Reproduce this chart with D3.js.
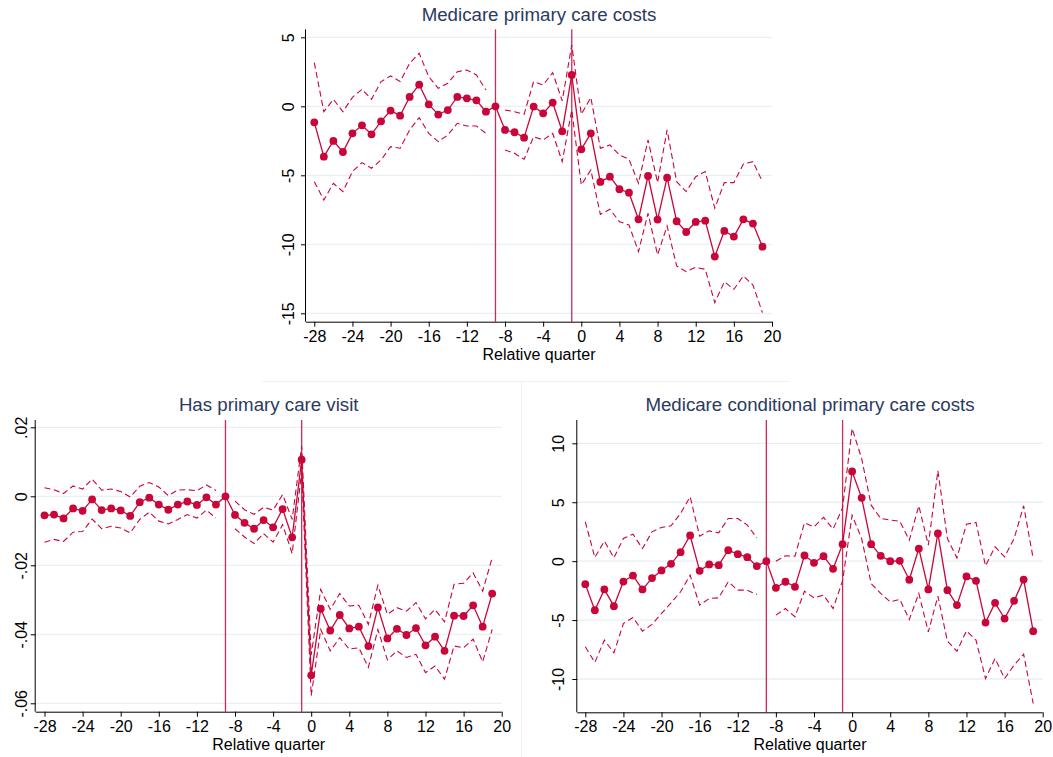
<!DOCTYPE html>
<html>
<head>
<meta charset="utf-8">
<script src="https://cdn.jsdelivr.net/npm/d3@7"></script>
<style>
  body { margin: 0; background: #fff; }
  svg { display: block; font-family: "Liberation Sans", Arial, sans-serif; }
</style>
</head>
<body>
<div id="chart"></div>
<script>
// relative quarter (x categories)
const quarters = [-28, -27, -26, -25, -24, -23, -22, -21, -20, -19, -18, -17, -16, -15, -14, -13, -12, -11, -10, -9,
  -8, -7, -6, -5, -4, -3, -2, -1, 0, 1, 2, 3, 4, 5, 6, 7, 8, 9, 10, 11, 12, 13, 14, 15, 16, 17, 18, 19];
const xTicks = [-28, -24, -20, -16, -12, -8, -4, 0, 4, 8, 12, 16, 20];
const refLines = [-9, -1];

// Medicare primary care costs
const costEst = [-1.16, -3.65, -2.51, -3.31, -1.96, -1.38, -2.03, -1.09, -0.31, -0.68, 0.68, 1.57, 0.14, -0.60, -0.27, 0.68, 0.58, 0.43, -0.39, 0,
  -1.71, -1.88, -2.27, -0.02, -0.51, 0.27, -1.81, 2.27, -3.12, -1.96, -5.48, -5.10, -6.01, -6.26, -8.19, -5.05, -8.21, -5.17, -8.33, -9.11, -8.38, -8.29, -10.89, -9.03, -9.44, -8.19, -8.50, -10.17];
const costHi = [3.16, -0.39, 0.51, -0.39, 0.65, 1.23, 0.51, 1.79, 2.2, 1.79, 3.12, 3.84, 2.15, 1.30, 1.67, 2.51, 2.63, 2.27, 1.18, null,
  -0.27, -0.39, -0.58, 1.79, 1.55, 2.44, 0.39, 4.44, -0.58, 0.63, -3.04, -2.80, -3.53, -3.84, -5.58, -2.44, -5.53, -1.71, -5.46, -6.18, -5.10, -4.73, -7.39, -5.53, -5.53, -4.18, -4.01, -5.46];
const costLo = [-5.46, -6.79, -5.58, -6.18, -4.73, -4.08, -4.49, -3.89, -2.92, -3.04, -1.71, -0.82, -1.96, -2.56, -2.08, -1.23, -1.43, -1.43, -1.96, null,
  -3.16, -3.41, -3.84, -2.20, -2.44, -1.96, -4.01, -0.27, -5.70, -4.61, -7.83, -7.46, -8.36, -8.60, -10.53, -7.75, -10.77, -8.67, -11.57, -11.98, -11.67, -11.81, -14.23, -12.71, -13.26, -12.29, -12.95, -14.95];
const costTicks = [5, 0, -5, -10, -15];

// Has primary care visit
const visitEst = [-0.0055, -0.0053, -0.0064, -0.0035, -0.0042, -0.0009, -0.0040, -0.0035, -0.0041, -0.0057, -0.0017, -0.0004, -0.0024, -0.0039, -0.0024, -0.0015, -0.0025, -0.0003, -0.0024, 0,
  -0.0054, -0.0077, -0.0094, -0.0069, -0.0090, -0.0037, -0.0119, 0.0106, -0.0519, -0.0326, -0.0389, -0.0344, -0.0383, -0.0378, -0.0434, -0.0322, -0.0412, -0.0384, -0.0402, -0.0382, -0.0432, -0.0407, -0.0448, -0.0346, -0.0347, -0.0316, -0.0378, -0.0282];
const visitHi = [0.0025, 0.0019, 0.0008, 0.0030, 0.0021, 0.0050, 0.0018, 0.0021, 0.0014, -0.0002, 0.0029, 0.0040, 0.0027, 0.0002, 0.0018, 0.0019, 0.0016, 0.0033, 0.0017, null,
  -0.0014, -0.0039, -0.0052, -0.0032, -0.0040, 0.0005, -0.0067, 0.0145, -0.0460, -0.0270, -0.0328, -0.0282, -0.0318, -0.0316, -0.0371, -0.0258, -0.0342, -0.0323, -0.0333, -0.0308, -0.0355, -0.0328, -0.0364, -0.0255, -0.0252, -0.0222, -0.0275, -0.0178];
const visitLo = [-0.0133, -0.0125, -0.0131, -0.0104, -0.0102, -0.0066, -0.0094, -0.0087, -0.0092, -0.0106, -0.0067, -0.0046, -0.0072, -0.0080, -0.0067, -0.0053, -0.0063, -0.0040, -0.0063, null,
  -0.0094, -0.0118, -0.0137, -0.0108, -0.0133, -0.0082, -0.0166, 0.0072, -0.0578, -0.0386, -0.0448, -0.0410, -0.0443, -0.0439, -0.0496, -0.0386, -0.0474, -0.0448, -0.0467, -0.0458, -0.0511, -0.0492, -0.0530, -0.0434, -0.0439, -0.0414, -0.0480, -0.0386];
const visitTicks = [0.02, 0, -0.02, -0.04, -0.06];

// Medicare conditional primary care costs
const condEst = [-1.95, -4.16, -2.40, -3.82, -1.73, -1.22, -2.40, -1.44, -0.79, -0.23, 0.76, 2.18, -0.82, -0.28, -0.34, 0.93, 0.59, 0.34, -0.42, 0,
  -2.26, -1.75, -2.18, 0.48, -0.14, 0.42, -0.65, 1.44, 7.61, 5.37, 1.44, 0.45, 0, 0.03, -1.58, 1.07, -2.40, 2.35, -2.46, -3.73, -1.30, -1.67, -5.21, -3.54, -4.87, -3.37, -1.56, -5.94];
const condHi = [3.34, 0.31, 1.70, 0.28, 1.92, 2.29, 1.07, 2.49, 2.86, 3.0, 4.05, 5.46, 2.12, 2.57, 2.40, 3.62, 3.62, 3.06, 1.98, null,
  0.0, 0.45, 0.42, 3.25, 2.91, 3.71, 2.72, 4.53, 11.26, 8.71, 4.75, 3.62, 3.48, 3.39, 1.78, 4.70, 1.36, 7.67, 1.92, 0.28, 3.14, 3.28, -0.40, 1.22, 0.37, 1.92, 4.70, 0.23];
const condLo = [-7.27, -8.60, -6.70, -7.78, -5.29, -4.78, -5.94, -5.37, -4.44, -3.54, -2.60, -1.19, -3.73, -3.17, -3.11, -1.75, -2.46, -2.46, -2.83, null,
  -4.58, -4.02, -4.72, -2.55, -3.11, -2.89, -4.02, -1.67, 3.90, 1.92, -1.90, -2.74, -3.45, -3.25, -4.95, -2.74, -6.00, -2.97, -6.79, -7.64, -5.91, -6.70, -9.96, -8.26, -9.96, -8.83, -7.89, -12.08];
const condTicks = [10, 5, 0, -5, -10];

const width = 1053;
const height = 757;
const red = '#c8063a';
const navy = '#2b3a5e';
const gridColor = '#e9f0f2';

const svg = d3.select('#chart')
    .append('svg')
    .attr('width', width)
    .attr('height', height);

// faint borders of the combined graph regions
svg.append('line')
    .attr('x1', 262).attr('x2', 790).attr('y1', 381.5).attr('y2', 381.5)
    .attr('stroke', '#edf1f3').attr('stroke-width', 1);
svg.append('line')
    .attr('x1', 521.5).attr('x2', 521.5).attr('y1', 382).attr('y2', height)
    .attr('stroke', '#edf1f3').attr('stroke-width', 1);

// plain hyphen minus, like the original
const intFmt = d => String(d);

// draws one panel
function drawPanel(p) {
    const x = d3.scaleLinear()
        .domain([-28, 20])
        .range([p.x28, p.x20]);
    const y = d3.scaleLinear()
        .domain([p.yTicks[p.yTicks.length - 1], p.yTicks[0]])
        .range([p.yBot, p.yTop]);

    const g = svg.append('g');

    // grid
    g.selectAll('.grid')
        .data(p.yTicks)
        .enter()
        .append('line')
        .attr('x1', p.left + 1)
        .attr('x2', p.x20)
        .attr('y1', d => y(d))
        .attr('y2', d => y(d))
        .attr('stroke', gridColor)
        .attr('stroke-width', 1.3);

    // reference lines
    g.selectAll('.ref')
        .data(refLines)
        .enter()
        .append('line')
        .attr('x1', d => x(d))
        .attr('x2', d => x(d))
        .attr('y1', p.top)
        .attr('y2', p.bottom)
        .attr('stroke', red)
        .attr('stroke-opacity', 0.85)
        .attr('stroke-width', 1.3);

    const pts = quarters.map((q, i) => ({ q, est: p.est[i], lo: p.lo[i], hi: p.hi[i] }));

    // confidence bands (dashed)
    ['lo', 'hi'].forEach(k => {
        const line = d3.line()
            .defined(d => d[k] != null)
            .x(d => x(d.q))
            .y(d => y(d[k]));
        g.append('path')
            .datum(pts)
            .attr('d', line)
            .attr('fill', 'none')
            .attr('stroke', red)
            .attr('stroke-width', 1.1)
            .attr('stroke-dasharray', '6,3.5');
    });

    // estimate line
    const estLine = d3.line()
        .x(d => x(d.q))
        .y(d => y(d.est));
    g.append('path')
        .datum(pts)
        .attr('d', estLine)
        .attr('fill', 'none')
        .attr('stroke', red)
        .attr('stroke-width', 1.3);

    g.selectAll('.dot')
        .data(pts)
        .enter()
        .append('circle')
        .attr('cx', d => x(d.q))
        .attr('cy', d => y(d.est))
        .attr('r', 3.9)
        .attr('fill', red);

    // x axis
    const xAxis = d3.axisBottom(x)
        .tickValues(xTicks)
        .tickFormat(intFmt)
        .tickSize(5)
        .tickPadding(3)
        .tickSizeOuter(0);
    const xg = g.append('g')
        .attr('transform', `translate(0,${p.bottom})`)
        .call(xAxis);
    xg.select('.domain').attr('d', `M${p.left},0.5H${p.x20}`).attr('stroke', '#000');
    xg.selectAll('.tick line').attr('stroke', '#000');
    xg.selectAll('.tick text')
        .attr('fill', '#000')
        .style('font-size', '16px')
        .attr('dy', null)
        .attr('y', 20);

    // y axis
    const yAxis = d3.axisLeft(y)
        .tickValues(p.yTicks)
        .tickSize(5)
        .tickFormat(p.fmt)
        .tickSizeOuter(0);
    const yg = g.append('g')
        .attr('transform', `translate(${p.left},0)`)
        .call(yAxis);
    yg.select('.domain').attr('d', `M-0.5,${p.top}V${p.bottom}`).attr('stroke', '#000');
    yg.selectAll('.tick line').attr('stroke', '#000');
    yg.selectAll('.tick text')
        .attr('fill', '#000')
        .style('font-size', '16px')
        .attr('x', null)
        .attr('dy', null)
        .attr('text-anchor', 'middle')
        .attr('transform', `translate(${-p.labGap},0) rotate(-90)`);

    // axis title
    g.append('text')
        .attr('x', (p.left + p.x20) / 2)
        .attr('y', p.bottom + 38)
        .attr('text-anchor', 'middle')
        .style('font-size', '16px')
        .attr('fill', '#000')
        .text('Relative quarter');

    // panel title
    g.append('text')
        .attr('x', (p.left + p.x20) / 2)
        .attr('y', p.top - 8.6)
        .attr('text-anchor', 'middle')
        .style('font-size', '18.7px')
        .attr('fill', navy)
        .text(p.title);
}

drawPanel({
    title: 'Medicare primary care costs',
    est: costEst, lo: costLo, hi: costHi,
    yTicks: costTicks, fmt: intFmt,
    left: 306, x28: 314.3, x20: 772, top: 29.3, bottom: 321.7,
    yTop: 37.3, yBot: 313.3, labGap: 12
});

drawPanel({
    title: 'Has primary care visit',
    est: visitEst, lo: visitLo, hi: visitHi,
    yTicks: visitTicks, fmt: d => d === 0 ? '0' : String(d).replace('0.', '.'),
    left: 35.7, x28: 44.5, x20: 501.7, top: 420, bottom: 711.7,
    yTop: 427.3, yBot: 703.3, labGap: 8.5
});

drawPanel({
    title: 'Medicare conditional primary care costs',
    est: condEst, lo: condLo, hi: condHi,
    yTicks: condTicks, fmt: intFmt,
    left: 577.3, x28: 585.3, x20: 1042.7, top: 420, bottom: 712.3,
    yTop: 443.3, yBot: 679, labGap: 13.5
});
</script>
</body>
</html>
